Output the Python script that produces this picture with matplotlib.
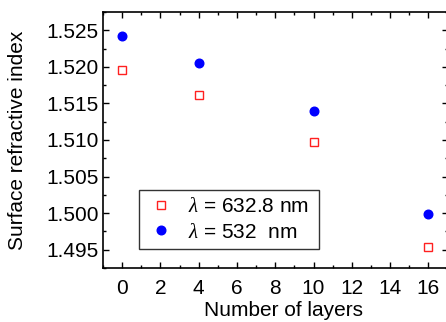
import numpy as np
import matplotlib.pyplot as plt
from matplotlib.ticker import MultipleLocator

layers = [0, 4, 10, 16]
n_6328 = [1.5196, 1.5161, 1.5097, 1.4954]
n_532 = [1.5242, 1.5205, 1.5140, 1.4999]

plt.rcParams['font.family'] = ['Liberation Sans', 'DejaVu Sans']
plt.rcParams['mathtext.fontset'] = 'custom'
plt.rcParams['mathtext.it'] = 'Liberation Serif:italic'

W, H = 446, 322
fig = plt.figure(figsize=(W / 100, H / 100), dpi=100)
# axes box in pixels: left 103, right 447.5, top 12, bottom 268
aw, ah = 447.5 - 103, 268 - 12
ax = fig.add_axes([103 / W, (H - 268) / H, aw / W, ah / H])

ax.plot(layers, n_6328, 's', ms=6, mfc='white', mec='#ff2020', mew=1.0,
        label=r'$\lambda$ = 632.8 nm', linestyle='none')
ax.plot(layers, n_532, 'o', ms=6.2, color='#0000ff', mec='#0000ff',
        label=r'$\lambda$ = 532  nm', linestyle='none')

ax.set_xlim(-1, 17)
ax.set_ylim(1.4925, 1.5275)
ax.xaxis.set_major_locator(MultipleLocator(2))
ax.xaxis.set_minor_locator(MultipleLocator(1))
ax.yaxis.set_major_locator(MultipleLocator(0.005))
ax.yaxis.set_minor_locator(MultipleLocator(0.0025))
ax.yaxis.set_major_formatter(plt.FormatStrFormatter('%.3f'))
ax.tick_params(which='both', direction='in', top=True, right=True, labelsize=15, width=1)
ax.tick_params(which='major', length=4.5)
ax.tick_params(which='minor', length=2.5)
ax.tick_params(axis='x', which='major', pad=8)
ax.tick_params(axis='y', which='major', pad=3)
for s in ax.spines.values():
    s.set_linewidth(1.2)

ax.set_xlabel('Number of layers', fontsize=15)
ax.set_ylabel('Surface refractive index', fontsize=15)
ax.xaxis.set_label_coords((283 - 103) / aw, -(301 - 268) / ah)
ax.yaxis.set_label_coords(-(103 - 27) / aw, 0.5)

leg = ax.legend(loc='lower left', bbox_to_anchor=((139 - 103) / aw, (268 - 249) / ah,
                                                   (319 - 139) / aw, (249 - 192) / ah),
                mode='expand', fontsize=15, frameon=True, fancybox=False, edgecolor='black',
                borderaxespad=0, handletextpad=0.6, labelspacing=0.3, borderpad=0.35,
                handlelength=1.4, numpoints=1)
leg.get_frame().set_linewidth(1.0)

fig.savefig('out.png', dpi=100)
